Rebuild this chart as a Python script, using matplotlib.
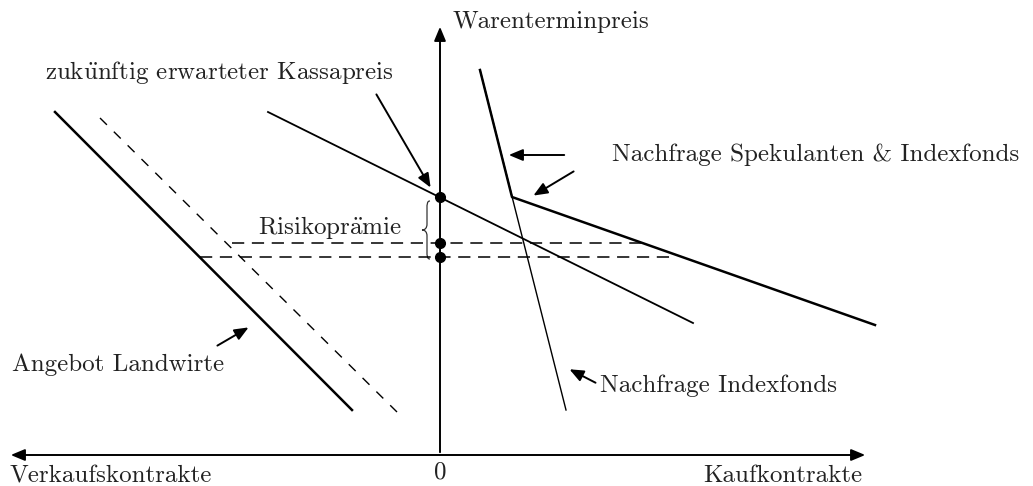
import matplotlib.pyplot as plt
from matplotlib.path import Path
from matplotlib.patches import PathPatch

plt.rcParams["mathtext.fontset"] = "cm"

# diagram coordinates (pixel-like units, y grows downward)
angebot_x = [55, 352]
angebot_y = [112, 410]
angebot_neu_x = [100, 397]
angebot_neu_y = [118, 412]
nachfrage_x = [268, 693]
nachfrage_y = [112, 323]
index_x = [480, 566]
index_y = [70, 410]
knick_x = [480, 512, 875]
knick_y = [70, 197, 325]
praemie_y = [243, 257]
praemie_x0 = [232, 200]
praemie_x1 = [645, 675]
punkte_y = [197, 243, 257]


def umlaut(s):
    # cmr10 has no precomposed umlauts, build them with mathtext accents
    return s.replace("ü", r"$\mathrm{\ddot{u}}$").replace("ä", r"$\mathrm{\ddot{a}}$")


def brace(ax, x, y0, y1, w=6):
    # thin left curly brace between y0 and y1
    m = (y0 + y1) / 2
    verts = [(x + w / 2, y0), (x, y0), (x, y0 + 3), (x, y0 + 8),
             (x, m - 6),
             (x, m - 2), (x - 2, m), (x - w / 2 - 2, m),
             (x - 2, m), (x, m + 2), (x, m + 6),
             (x, y1 - 8),
             (x, y1 - 3), (x, y1), (x + w / 2, y1)]
    codes = [Path.MOVETO, Path.CURVE4, Path.CURVE4, Path.CURVE4,
             Path.LINETO,
             Path.CURVE4, Path.CURVE4, Path.CURVE4,
             Path.CURVE4, Path.CURVE4, Path.CURVE4,
             Path.LINETO,
             Path.CURVE4, Path.CURVE4, Path.CURVE4]
    ax.add_patch(PathPatch(Path(verts, codes), fill=False, lw=0.9, color="#333333"))


fig = plt.figure(figsize=(10.33, 4.86), dpi=100)
ax = fig.add_axes([0, 0, 1, 1])
ax.set_xlim(0, 1033)
ax.set_ylim(486, 0)
ax.axis("off")

font = dict(family="cmr10", fontsize=18, color="#222222")
pfeil = dict(arrowstyle="-|>,head_length=0.6,head_width=0.25", color="black",
             lw=1.4, mutation_scale=14)

# axes
ax.annotate("", xy=(8, 455), xytext=(868, 455),
            arrowprops=dict(arrowstyle="<|-|>,head_length=0.6,head_width=0.25",
                            color="black", lw=1.4, mutation_scale=14))
ax.annotate("", xy=(440, 24), xytext=(440, 455), arrowprops=pfeil)

# curves
ax.plot(angebot_x, angebot_y, color="black", lw=1.8)
ax.plot(angebot_neu_x, angebot_neu_y, color="black", lw=1.0, ls=(0, (7, 7)))
ax.plot(nachfrage_x, nachfrage_y, color="black", lw=1.3)
ax.plot(index_x, index_y, color="black", lw=1.0)
ax.plot(knick_x, knick_y, color="black", lw=1.8)

# risk premium levels
for y, x0, x1 in zip(praemie_y, praemie_x0, praemie_x1):
    ax.plot([x0, x1], [y, y], color="black", lw=1.1, ls=(0, (8, 5)))
ax.plot([440] * len(punkte_y), punkte_y, "o", color="black", ms=7)
brace(ax, 427, 201, 259)

# labels
ax.text(453, 22, "Warenterminpreis", ha="left", va="center", **font)
ax.text(10, 482, "Verkaufskontrakte", ha="left", va="baseline", **font)
ax.text(440, 478, "0", ha="center", va="baseline", **font)
ax.text(862, 482, "Kaufkontrakte", ha="right", va="baseline", **font)
ax.text(258, 227, umlaut("Risikoprämie"), ha="left", va="center", **font)
ax.text(45, 72, umlaut("zukünftig erwarteter Kassapreis"), ha="left", va="center", **font)
ax.text(612, 155, "Nachfrage Spekulanten & Indexfonds", ha="left", va="center", **font)
ax.text(12, 365, "Angebot Landwirte", ha="left", va="center", **font)
ax.text(600, 386, "Nachfrage Indexfonds", ha="left", va="center", **font)

# pointers
ax.annotate("", xy=(432, 190), xytext=(375, 92), arrowprops=pfeil)
ax.annotate("", xy=(506, 155), xytext=(567, 155), arrowprops=pfeil)
ax.annotate("", xy=(531, 197), xytext=(576, 170), arrowprops=pfeil)
ax.annotate("", xy=(251, 326), xytext=(215, 347), arrowprops=pfeil)
ax.annotate("", xy=(567, 368), xytext=(598, 384), arrowprops=pfeil)

fig.savefig("out.png", dpi=100)
